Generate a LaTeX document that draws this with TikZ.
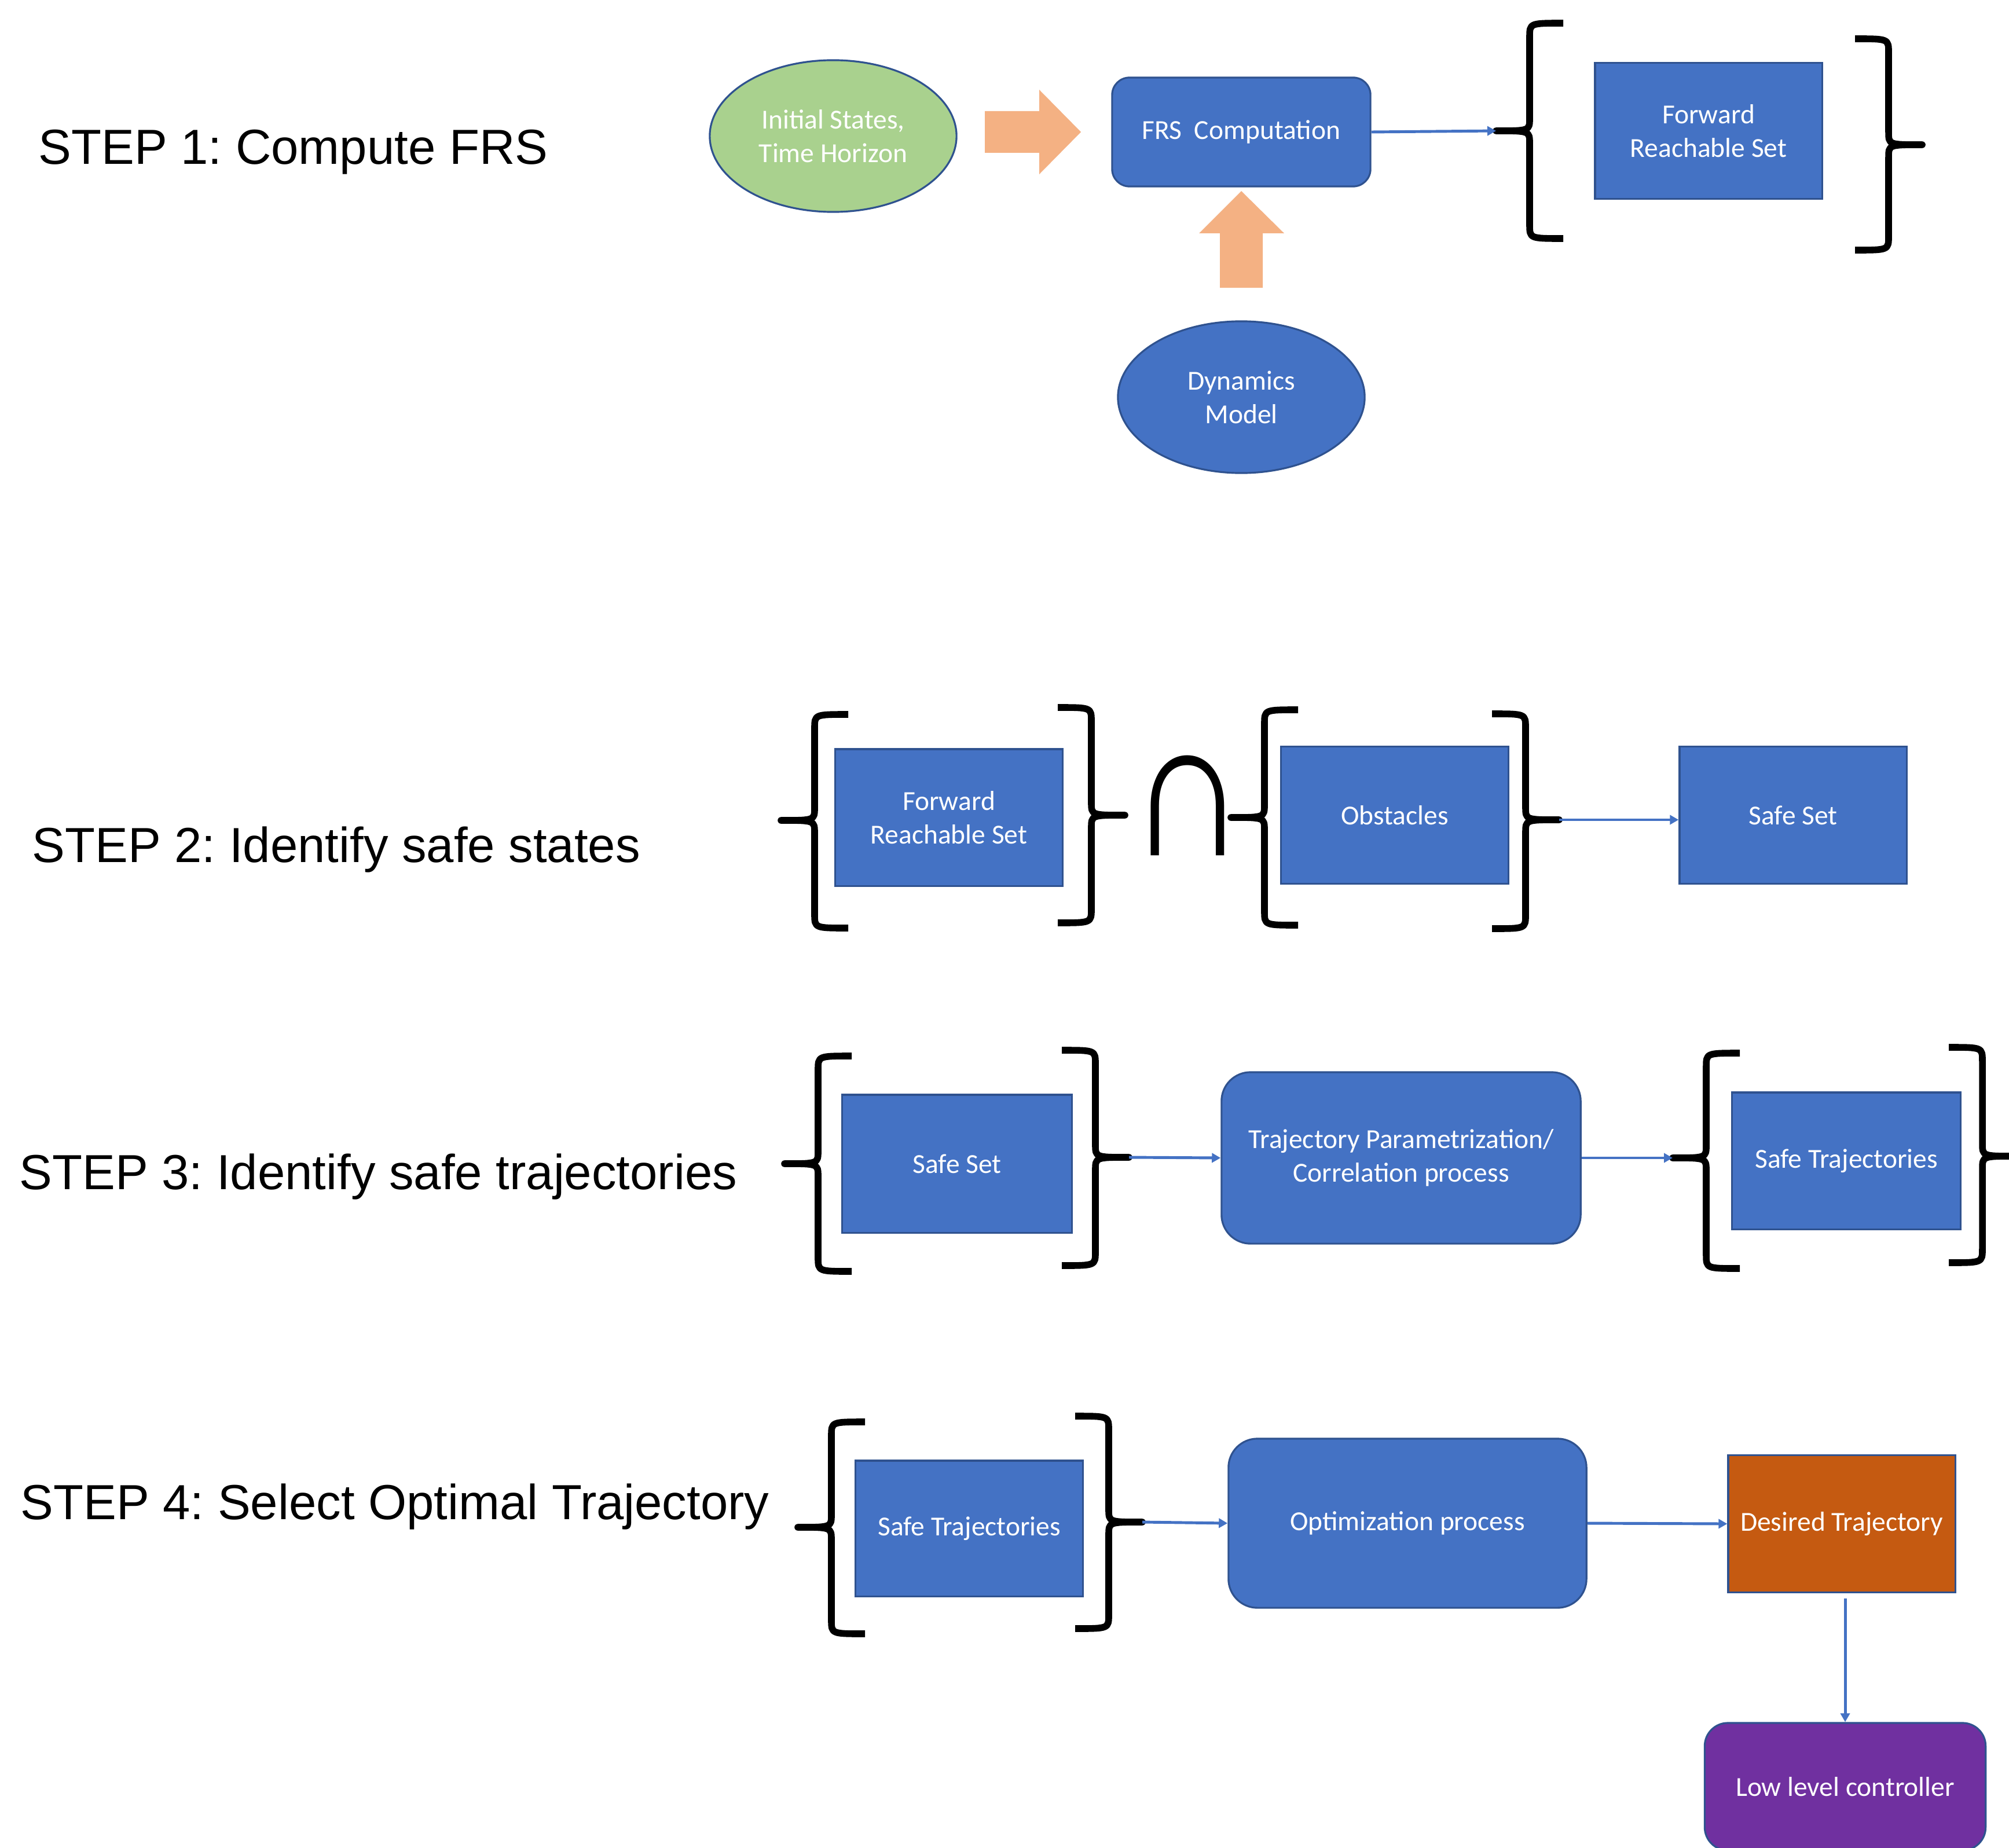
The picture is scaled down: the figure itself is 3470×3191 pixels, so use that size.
\documentclass[tikz,border=0pt]{standalone}
\usepackage{fontspec}
\setmainfont{Carlito}
\newfontfamily\stepfamily{Liberation Sans}
\usetikzlibrary{shapes.geometric,arrows.meta}
\definecolor{blu}{HTML}{4472C4}
\definecolor{bord}{HTML}{2F528F}
\definecolor{grn}{HTML}{A9D18E}
\definecolor{orng}{HTML}{F4B183}
\definecolor{rust}{HTML}{C55A11}
\definecolor{purp}{HTML}{7030A0}
\newcommand{\boxfont}{\fontsize{13.5}{16.5}\selectfont}
\newcommand{\stepfont}{\stepfamily\fontsize{24.2}{29}\selectfont\frenchspacing}
% #1 tip name, #2 spine x, #3 top y, #4 mid y, #5 bottom y, #6 direction (1: tip left, -1: tip right)
\newcommand{\mybrace}[6]{%
  \draw[brc] ({#2+58*(#6)},#3) .. controls ({#2},#3) .. ({#2},{#3+24})
    -- ({#2},{#4-22}) .. controls ({#2},#4) .. ({#2-58*(#6)},#4)
    .. controls ({#2},#4) .. ({#2},{#4+22})
    -- ({#2},{#5-24}) .. controls ({#2},#5) .. ({#2+58*(#6)},#5);
  \coordinate (#1) at ({#2-58*(#6)},#4);
}
\tikzset{
  box/.style={draw=bord, fill=blu, line width=0.9pt, text=white, font=\boxfont,
    align=center, inner sep=0pt},
  rbox/.style={box, rounded corners=0.3cm},
  bigrbox/.style={box, rounded corners=0.5cm},
  oval/.style={box, ellipse, minimum width=4.26cm, minimum height=2.62cm},
  steplabel/.style={anchor=base west, inner sep=0pt, font=\stepfont},
  brc/.style={line width=3.3pt, line join=round, line cap=butt},
  conn/.style={draw=blu, line width=1.4pt, -{Triangle[length=0.15cm,width=0.16cm]}},
  blockarrow/.style={fill=orng, draw=none}
}
\begin{document}
\begin{tikzpicture}[x=0.01cm, y=-0.01cm]
\useasboundingbox (0,0) rectangle (3470,3191);
\clip (0,0) rectangle (3470,3191);
\fill[white] (0,0) rectangle (3470,3191);

% ---- step labels
\node[steplabel] (s1) at (66,284) {STEP 1: Compute FRS};
\node[steplabel] (s2) at (55,1489) {STEP 2: Identify safe states};
\node[steplabel] (s3) at (33,2054) {STEP 3: Identify safe trajectories};
\node[steplabel] (s4) at (35,2624) {STEP 4: Select Optimal Trajectory};

% ---- step 1
\node[oval, fill=grn] (init) at (1439,235) {Initial States,\\Time Horizon};
\node[rbox, minimum width=4.46cm, minimum height=1.88cm] (frs) at (2144,228) {FRS~~Computation};
\node[oval] (dyn) at (2144,686) {Dynamics\\Model};
\fill[blockarrow] (1701,192) -- (1795,192) -- (1795,155) -- (1867,228) -- (1795,301) -- (1795,264) -- (1701,264) -- cycle;
\fill[blockarrow] (2107,497) -- (2107,403) -- (2071,403) -- (2144,330) -- (2218,403) -- (2181,403) -- (2181,497) -- cycle;
\mybrace{L1}{2642}{40}{226}{412}{1}
\node[box, minimum width=3.92cm, minimum height=2.35cm] (frsA) at (2951,226) {Forward\\Reachable Set};
\mybrace{R1}{3262}{67}{250}{432}{-1}
\draw[conn] (frs.east) -- (L1);

% ---- step 2
\mybrace{L2a}{1407}{1234}{1417}{1603}{1}
\node[box, minimum width=3.92cm, minimum height=2.36cm] (frsB) at (1639,1412) {Forward\\Reachable Set};
\mybrace{R2a}{1885}{1222}{1408}{1594}{-1}
\node[inner sep=0pt, anchor=base, font=\stepfamily\fontsize{62}{62}\selectfont] (cap) at (2051,1477) {\scalebox{1.3}[1.57]{∩}};
\mybrace{L2b}{2184}{1226}{1412}{1598}{1}
\node[box, minimum width=3.93cm, minimum height=2.37cm] (obs) at (2409,1408) {Obstacles};
\mybrace{R2b}{2635}{1233}{1416}{1604}{-1}
\node[box, minimum width=3.92cm, minimum height=2.37cm] (safeA) at (3097,1408) {Safe Set};
\draw[conn] (R2b) -- (R2b -| safeA.west);

% ---- step 3
\mybrace{L3a}{1413}{1824}{2010}{2196}{1}
\node[box, minimum width=3.96cm, minimum height=2.38cm] (safeB) at (1653,2010) {Safe Set};
\mybrace{R3a}{1892}{1814}{1999}{2186}{-1}
\node[bigrbox, minimum width=6.2cm, minimum height=2.96cm] (traj) at (2420,2000) {Trajectory Parametrization/\\Correlation process};
\mybrace{L3b}{2947}{1819}{2000}{2191}{1}
\node[box, minimum width=3.95cm, minimum height=2.36cm] (stA) at (3189,2005) {Safe Trajectories};
\mybrace{R3b}{3424}{1809}{1997}{2181}{-1}
\draw[conn] (R3a) -- (traj.west);
\draw[conn] (traj.east) -- (L3b);

% ---- step 4
\mybrace{L4a}{1436}{2456}{2638}{2822}{1}
\node[box, minimum width=3.92cm, minimum height=2.34cm] (stB) at (1674,2640) {Safe Trajectories};
\mybrace{R4a}{1915}{2446}{2629}{2813}{-1}
\node[bigrbox, minimum width=6.18cm, minimum height=2.92cm] (opt) at (2431,2631) {Optimization process};
\node[box, fill=rust, minimum width=3.92cm, minimum height=2.37cm] (des) at (3181,2632) {Desired Trajectory};
\node[box, fill=purp, rounded corners=0.4cm, minimum width=4.85cm, minimum height=2.2cm] (low) at (3187,3086) {Low level controller};
\draw[conn] (R4a) -- (opt.west);
\draw[conn] (opt.east) -- (des.west);
\draw[conn, shorten <=0.09cm] (low.north |- des.south) -- (low.north);
\end{tikzpicture}
\end{document}
